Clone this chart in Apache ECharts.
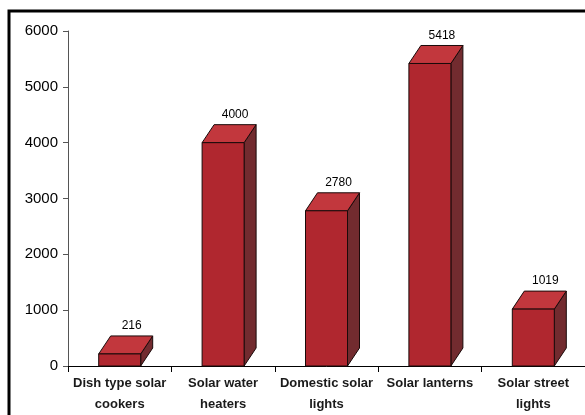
<!DOCTYPE html>
<html>
<head>
<meta charset="utf-8">
<script src="https://cdn.jsdelivr.net/npm/echarts@6/dist/echarts.min.js"></script>
<style>
  html, body { margin: 0; padding: 0; background: #fff; }
  #chart { width: 585px; height: 415px; }
</style>
</head>
<body>
<div id="chart"></div>
<script>
// data
var categories = ['Dish type solar\ncookers', 'Solar water\nheaters', 'Domestic solar\nlights', 'Solar lanterns', 'Solar street\nlights'];
var values = [216, 4000, 2780, 5418, 1019];
var yTicks = [0, 1000, 2000, 3000, 4000, 5000, 6000];

var chart = echarts.init(document.getElementById('chart'));

var BAR_W = 42;   // front face width
var DX = 12;      // depth offset
var DY = 18;

function renderBar(params, api) {
  var idx = api.value(0);
  var val = api.value(1);
  var top = api.coord([idx, val]);
  var base = api.coord([idx, 0]);
  var x0 = top[0] - BAR_W / 2, x1 = top[0] + BAR_W / 2;
  var y0 = top[1], y1 = base[1];
  var stroke = { stroke: '#1a0a0a', lineWidth: 1 };
  return {
    type: 'group',
    children: [
      { // side
        type: 'polygon',
        shape: { points: [[x1, y0], [x1 + DX, y0 - DY], [x1 + DX, y1 - DY], [x1, y1]] },
        style: Object.assign({ fill: '#722b2f' }, stroke)
      },
      { // top
        type: 'polygon',
        shape: { points: [[x0, y0], [x0 + DX, y0 - DY], [x1 + DX, y0 - DY], [x1, y0]] },
        style: Object.assign({ fill: '#c2373d' }, stroke)
      },
      { // front
        type: 'rect',
        shape: { x: x0, y: y0, width: BAR_W, height: y1 - y0 },
        style: Object.assign({ fill: '#b0272f' }, stroke)
      },
      {
        type: 'text',
        style: {
          text: String(val),
          x: top[0] + DX,
          y: y0 - DY - 4,
          align: 'center',
          verticalAlign: 'bottom',
          fill: '#000',
          font: '12px "Liberation Sans", Arial, sans-serif'
        }
      }
    ]
  };
}

chart.setOption({
  backgroundColor: '#fff',
  animation: false,
  grid: { left: 68, right: 0, top: 31, bottom: 45 },
  graphic: [{
    type: 'rect',
    shape: { x: 9, y: 11, width: 600, height: 420 },
    style: { fill: 'none', stroke: '#000', lineWidth: 3 },
    silent: true
  }],
  xAxis: {
    type: 'category',
    data: categories,
    axisLine: { lineStyle: { color: '#000', width: 1 } },
    axisTick: { show: true, length: 6, lineStyle: { color: '#000' } },
    axisLabel: {
      interval: 0,
      color: '#1a1a1a',
      fontFamily: '"Liberation Sans Narrow", "Arial Narrow", "Liberation Sans", sans-serif',
      fontWeight: 'bold',
      fontSize: 13,
      lineHeight: 21,
      margin: 7
    }
  },
  yAxis: {
    type: 'value',
    min: yTicks[0],
    max: yTicks[yTicks.length - 1],
    interval: 1000,
    axisLine: { show: true, lineStyle: { color: '#555', width: 1 } },
    axisTick: { show: true, length: 5, lineStyle: { color: '#555' } },
    splitLine: { show: false },
    axisLabel: {
      color: '#000',
      fontFamily: '"Liberation Sans", Arial, sans-serif',
      fontSize: 15,
      margin: 10,
      formatter: function (v) { return String(v); }
    }
  },
  series: [{
    type: 'custom',
    renderItem: renderBar,
    data: values.map(function (v, i) { return [i, v]; }),
    clip: false
  }]
});
</script>
</body>
</html>
